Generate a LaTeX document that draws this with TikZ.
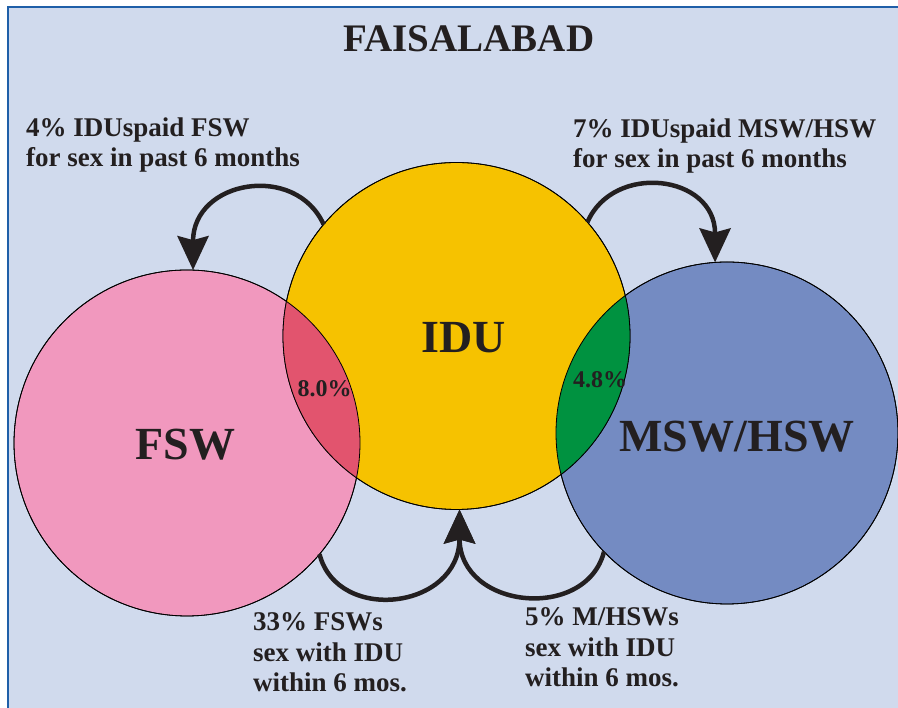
\documentclass[tikz,border=0pt]{standalone}
\usepackage{fontspec}
\setmainfont{Liberation Serif}
\usetikzlibrary{arrows.meta}
\definecolor{bgc}{RGB}{208,218,237}
\definecolor{framec}{RGB}{31,95,168}
\definecolor{pinkc}{RGB}{241,152,190}
\definecolor{yellowc}{RGB}{246,194,0}
\definecolor{bluec}{RGB}{116,139,194}
\definecolor{redc}{RGB}{226,84,110}
\definecolor{greenc}{RGB}{0,146,64}
\definecolor{arrowc}{RGB}{35,31,32}
\definecolor{txtc}{RGB}{35,31,32}
\begin{document}
\begin{tikzpicture}[x=1pt,y=1pt,
  venn/.style={circle, inner sep=0pt, outer sep=0pt, draw=black, line width=0.8pt},
  outline/.style={draw=black, line width=0.8pt},
  flow/.style={line width=4.5pt, draw=arrowc, -{Stealth[length=34pt,width=31pt,inset=4pt]}},
  lbl/.style={font=\fontsize{27pt}{30.5pt}\selectfont\bfseries, align=left, inner sep=0pt, anchor=base west, text=txtc},
  big/.style={font=\fontsize{46pt}{50pt}\selectfont\bfseries, inner sep=0pt, anchor=base, text=txtc},
  pct/.style={font=\fontsize{24pt}{26pt}\selectfont\bfseries, inner sep=0pt, anchor=base, text=txtc},
  ttl/.style={font=\fontsize{39pt}{42pt}\selectfont\bfseries, inner sep=0pt, anchor=base, text=txtc}]
\useasboundingbox (0,0) rectangle (898,708);
\clip (0,0) rectangle (898,708);
\fill[white] (0,0) rectangle (898,708);
\draw[fill=bgc, draw=framec, line width=1.5pt] (8,701) rectangle (910,-10);

% circles
\node[venn, minimum size=346pt, fill=pinkc] (fsw) at (187,265) {};
\node[venn, minimum size=342pt, fill=bluec] (msw) at (727,275) {};
\node[venn, minimum size=347pt, fill=yellowc] (idu) at (456.5,372) {};
\begin{scope}
  \clip (fsw.center) circle (173);
  \fill[redc] (idu.center) circle (173.5);
\end{scope}
\begin{scope}
  \clip (msw.center) circle (171);
  \fill[greenc] (idu.center) circle (173.5);
\end{scope}
\draw[outline] (fsw.center) circle (173);
\draw[outline] (msw.center) circle (171);
\draw[outline] (idu.center) circle (173.5);

% labels
\node[ttl] (title) at (469,656) {FAISALABAD};
\node[big] (iduL) at (463.5,355) {IDU};
\node[big] (fswL) at (185.5,248) {FSW};
\node[big] (mswL) at (737,256) {MSW/HSW};
\node[pct] (pFI) at (324.5,311) {8.0\%};
\node[pct] (pMI) at (600,320) {4.8\%};

\node[lbl] (tl) at (26,541) {4\% IDUspaid FSW\\for sex in past 6 months};
\node[lbl] (tr) at (573,540) {7\% IDUspaid MSW/HSW\\for sex in past 6 months};
\node[lbl] (bl) at (253,16) {33\% FSWs\\sex with IDU\\within 6 mos.};
\node[lbl] (br) at (525,21) {5\% M/HSWs\\sex with IDU\\within 6 mos.};

% connectors
\draw[flow] (idu.140.6) .. controls +(-28,62) and +(0,90) .. (fsw.88);
\draw[flow] (idu.41.1) .. controls +(26,60) and +(0,88) .. (msw.94.3);
\draw[flow] (fsw.320.5) .. controls +(18,-70) and +(0,-100) .. (idu.271.8);
\draw[flow] (msw.224.3) .. controls +(-18,-70) and +(0,-100) .. (idu.271.8);
\end{tikzpicture}
\end{document}
